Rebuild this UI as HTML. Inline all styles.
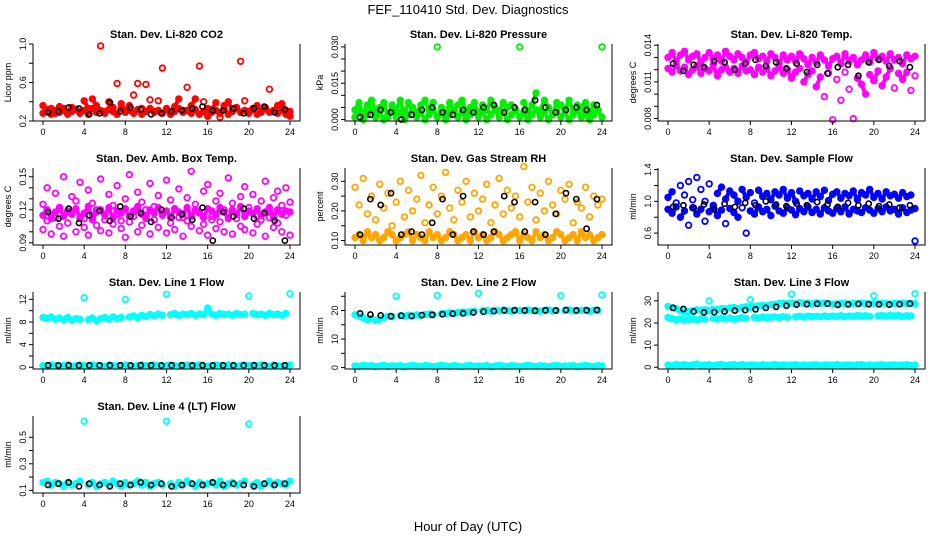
<!DOCTYPE html>
<html><head><meta charset="utf-8"><style>
html,body{margin:0;padding:0;background:#fff;}
svg{display:block;font-family:"Liberation Sans",Arial,sans-serif;}
</style></head><body>
<svg id="chart" width="936" height="540" viewBox="0 0 936 540">
<rect x="0" y="0" width="936" height="540" fill="#fff"/>
<text x="468" y="14" text-anchor="middle" font-size="13">FEF_110410  Std. Dev. Diagnostics</text>
<text x="468" y="531" text-anchor="middle" font-size="13">Hour of Day (UTC)</text>
</svg>
<script>
// shared hour arrays
const tC=[0,0.4,0.8,1.2,1.6,2,2.4,2.8,3.2,3.6,4,4.4,4.8,5.2,5.6,6,6.4,6.8,7.2,7.6,8,8.4,8.8,9.2,9.6,10,10.4,10.8,11.2,11.6,12,12.4,12.8,13.2,13.6,14,14.4,14.8,15.2,15.6,16,16.4,16.8,17.2,17.6,18,18.4,18.8,19.2,19.6,20,20.4,20.8,21.2,21.6,22,22.4,22.8,23.2,23.6,24];
const tB=[0.5,1.5,2.5,3.5,4.5,5.5,6.5,7.5,8.5,9.5,10.5,11.5,12.5,13.5,14.5,15.5,16.5,17.5,18.5,19.5,20.5,21.5,22.5,23.5];
const xTicks=[0,4,8,12,16,20,24];

const co2A=[0.36,0.30,0.33,0.28,0.35,0.31,0.29,0.34,0.32,0.30,0.41,0.33,0.43,0.36,0.98,0.30,0.40,0.34,0.59,0.38,0.31,0.36,0.47,0.59,0.33,0.58,0.42,0.30,0.41,0.75,0.33,0.28,0.35,0.43,0.31,0.55,0.36,0.43,0.77,0.40,0.25,0.32,0.39,0.24,0.36,0.40,0.31,0.34,0.82,0.41,0.30,0.33,0.36,0.29,0.34,0.53,0.30,0.36,0.38,0.31,0.25];
const co2B=[0.28,0.32,0.27,0.31,0.29,0.33,0.27,0.30,0.32,0.28,0.31,0.27,0.33,0.29,0.31,0.28,0.32,0.30,0.27,0.33,0.29,0.31,0.28,0.32,0.27,0.30,0.33,0.29,0.31,0.28,0.32,0.27,0.30,0.33,0.29,0.31,0.28,0.32,0.27,0.30,0.33,0.29,0.31,0.28,0.32,0.27,0.30,0.33,0.29,0.31,0.28,0.32,0.27,0.30,0.33,0.29,0.31,0.28,0.32,0.27,0.30];
const co2K=[0.29,0.30,0.34,0.33,0.27,0.28,0.39,0.30,0.34,0.32,0.27,0.28,0.30,0.31,0.33,0.35,0.31,0.31,0.33,0.28,0.33,0.35,0.29,0.32];

const presA=[0.004,0.007,0.002,0.006,0.008,0.003,0.005,0.007,0.001,0.006,0.004,0.008,0.002,0.007,0.005,0.003,0.006,0.008,0.004,0.007,0.030,0.005,0.002,0.007,0.004,0.006,0.008,0.003,0.005,0.007,0.002,0.006,0.004,0.008,0.005,0.003,0.007,0.005,0.006,0.004,0.030,0.007,0.003,0.006,0.011,0.004,0.008,0.005,0.002,0.007,0.006,0.004,0.008,0.003,0.006,0.005,0.007,0.002,0.006,0.004,0.030];
const presB=[0.001,0.003,0.000,0.002,0.004,0.001,0.003,0.000,0.002,0.004,0.001,0.003,0.000,0.002,0.004,0.001,0.003,0.000,0.002,0.004,0.001,0.003,0.000,0.002,0.004,0.001,0.003,0.000,0.002,0.004,0.001,0.003,0.000,0.002,0.004,0.001,0.003,0.000,0.002,0.004,0.001,0.003,0.000,0.002,0.004,0.001,0.003,0.000,0.002,0.004,0.001,0.003,0.000,0.002,0.004,0.001,0.003,0.000,0.002,0.004,0.001];
const presK=[0.001,0.002,0.004,0.003,0.000,0.002,0.004,0.005,0.003,0.002,0.004,0.003,0.005,0.006,0.003,0.005,0.004,0.008,0.005,0.003,0.004,0.005,0.004,0.006];

const tempA=[0.0130,0.0134,0.0127,0.0132,0.0135,0.0128,0.0131,0.0133,0.0126,0.0130,0.0134,0.0129,0.0132,0.0127,0.0135,0.0131,0.0128,0.0133,0.0130,0.0126,0.0132,0.0134,0.0129,0.0131,0.0127,0.0133,0.0130,0.0125,0.0132,0.0128,0.0131,0.0127,0.0133,0.0129,0.0124,0.0130,0.0126,0.0132,0.0128,0.0123,0.0129,0.0131,0.0125,0.0133,0.0127,0.0130,0.0124,0.0128,0.0132,0.0126,0.0134,0.0129,0.0131,0.0127,0.0133,0.0128,0.0130,0.0125,0.0132,0.0129,0.0131];
const tempB=[0.0121,0.0118,0.0124,0.0119,0.0122,0.0116,0.0120,0.0123,0.0117,0.0121,0.0119,0.0124,0.0115,0.0120,0.0122,0.0118,0.0121,0.0117,0.0123,0.0119,0.0120,0.0116,0.0122,0.0118,0.0121,0.0115,0.0119,0.0122,0.0117,0.0120,0.0113,0.0118,0.0121,0.0110,0.0116,0.0119,0.0106,0.0114,0.0098,0.0117,0.0079,0.0112,0.0095,0.0118,0.0104,0.0080,0.0113,0.0108,0.0100,0.0116,0.0111,0.0119,0.0107,0.0114,0.0121,0.0105,0.0117,0.0112,0.0118,0.0103,0.0115];
const tempK=[0.0125,0.0119,0.0124,0.0122,0.0127,0.0126,0.0120,0.0125,0.0128,0.0123,0.0126,0.0121,0.0125,0.0118,0.0124,0.0117,0.0122,0.0124,0.0115,0.0126,0.0128,0.0123,0.0127,0.0122];

const ambA=[0.125,0.140,0.115,0.135,0.122,0.150,0.118,0.132,0.128,0.145,0.112,0.138,0.126,0.120,0.148,0.116,0.134,0.124,0.142,0.110,0.130,0.152,0.119,0.136,0.127,0.114,0.144,0.123,0.133,0.117,0.147,0.129,0.121,0.139,0.113,0.131,0.155,0.125,0.118,0.137,0.143,0.111,0.128,0.135,0.120,0.149,0.126,0.116,0.132,0.141,0.122,0.134,0.114,0.128,0.146,0.119,0.131,0.137,0.124,0.140,0.127];
const ambB=[0.102,0.110,0.098,0.113,0.105,0.096,0.108,0.118,0.100,0.112,0.104,0.097,0.115,0.106,0.101,0.111,0.099,0.107,0.116,0.103,0.095,0.109,0.114,0.100,0.106,0.120,0.098,0.111,0.104,0.117,0.099,0.108,0.102,0.113,0.096,0.110,0.105,0.119,0.101,0.107,0.097,0.114,0.103,0.109,0.100,0.116,0.098,0.112,0.105,0.102,0.118,0.099,0.107,0.111,0.096,0.113,0.104,0.108,0.100,0.115,0.097];
const ambC=[0.115,0.120,0.112,0.118,0.122,0.114,0.119,0.116,0.121,0.113,0.117,0.123,0.111,0.118,0.120,0.115,0.122,0.112,0.119,0.117,0.121,0.114,0.118,0.123,0.116,0.112,0.120,0.117,0.122,0.115,0.119,0.113,0.121,0.118,0.116,0.122,0.114,0.120,0.117,0.113,0.121,0.119,0.115,0.122,0.118,0.112,0.120,0.116,0.123,0.114,0.119,0.117,0.121,0.115,0.118,0.122,0.113,0.120,0.116,0.119,0.118];
const ambK=[0.118,0.112,0.121,0.108,0.115,0.119,0.110,0.123,0.114,0.117,0.109,0.120,0.113,0.116,0.111,0.122,0.092,0.118,0.114,0.121,0.112,0.117,0.110,0.092];

const rhA=[0.28,0.22,0.31,0.19,0.25,0.17,0.29,0.21,0.26,0.15,0.23,0.30,0.18,0.27,0.20,0.24,0.32,0.16,0.22,0.28,0.19,0.25,0.33,0.21,0.17,0.27,0.23,0.30,0.18,0.26,0.20,0.24,0.29,0.16,0.22,0.31,0.19,0.27,0.21,0.25,0.18,0.35,0.23,0.28,0.17,0.26,0.20,0.30,0.22,0.19,0.27,0.24,0.29,0.16,0.23,0.21,0.28,0.18,0.25,0.22,0.24];
const rhB=[0.11,0.12,0.10,0.13,0.11,0.12,0.10,0.11,0.13,0.12,0.10,0.11,0.12,0.13,0.10,0.12,0.11,0.10,0.13,0.11,0.12,0.10,0.11,0.13,0.12,0.10,0.11,0.12,0.10,0.13,0.11,0.12,0.10,0.11,0.13,0.12,0.10,0.11,0.12,0.13,0.10,0.12,0.11,0.10,0.13,0.11,0.12,0.10,0.11,0.13,0.12,0.10,0.11,0.12,0.10,0.13,0.11,0.12,0.10,0.11,0.12];
const rhK=[0.12,0.24,0.22,0.26,0.12,0.13,0.12,0.16,0.24,0.12,0.25,0.13,0.12,0.13,0.25,0.23,0.13,0.23,0.12,0.19,0.26,0.24,0.14,0.24];

const flowA=[1.05,1.12,0.98,1.20,1.08,1.25,1.02,1.30,1.15,1.00,1.22,0.95,1.10,1.18,1.03,1.13,1.08,1.00,1.15,1.05,1.11,0.98,1.14,1.06,1.10,1.02,1.12,1.08,1.15,1.04,1.11,1.00,1.13,1.07,1.10,1.03,1.12,1.06,1.14,1.01,1.09,1.12,1.04,1.10,1.07,1.13,1.02,1.11,1.08,1.15,1.05,1.10,1.03,1.12,1.07,1.09,1.04,1.11,1.06,1.08,0.50];
const flowB=[0.90,0.85,0.93,0.80,0.88,0.70,0.92,0.84,0.90,0.75,0.87,0.93,0.82,0.89,0.72,0.91,0.86,0.80,0.92,0.60,0.88,0.84,0.93,0.87,0.90,0.82,0.94,0.88,0.85,0.92,0.89,0.83,0.91,0.87,0.93,0.86,0.90,0.84,0.92,0.88,0.85,0.91,0.87,0.93,0.84,0.90,0.88,0.86,0.92,0.89,0.85,0.91,0.87,0.93,0.88,0.90,0.84,0.92,0.86,0.89,0.91];
const flowK=[0.93,0.95,0.92,0.96,0.90,0.97,0.93,0.98,0.95,1.00,0.96,0.94,0.97,0.95,0.99,0.96,0.93,0.98,0.95,0.97,0.94,0.96,0.92,0.95];

const l1A=[8.8,8.6,8.9,8.5,8.7,8.4,8.8,8.3,8.6,8.5,12.3,8.4,8.7,8.2,8.6,8.8,8.5,8.9,8.6,8.8,12.0,8.9,9.1,8.8,9.2,9.0,9.3,9.1,9.4,9.2,12.9,9.3,9.5,9.2,9.4,9.3,9.5,9.2,9.4,9.3,10.5,9.4,9.2,9.5,9.3,9.4,9.2,9.5,9.3,9.4,12.6,9.5,9.3,9.4,9.2,9.5,9.3,9.4,9.2,9.5,13.0];
const l1B=[0.3,0.2,0.4,0.3,0.2,0.3,0.4,0.2,0.3,0.4,0.3,0.2,0.4,0.3,0.3,0.2,0.4,0.3,0.2,0.3,0.4,0.3,0.2,0.3,0.4,0.3,0.2,0.4,0.3,0.2,0.3,0.4,0.3,0.2,0.3,0.4,0.2,0.3,0.4,0.3,0.2,0.3,0.4,0.3,0.2,0.4,0.3,0.2,0.3,0.4,0.3,0.2,0.3,0.4,0.3,0.2,0.4,0.3,0.2,0.3,0.4];
const l1K=[0.35,0.33,0.36,0.34,0.35,0.33,0.36,0.35,0.34,0.36,0.35,0.33,0.35,0.36,0.34,0.35,0.33,0.36,0.35,0.34,0.36,0.35,0.33,0.35];

const l2A=[18.5,18.0,17.5,16.8,17.2,16.5,17.0,17.5,18.0,17.8,25.0,18.2,18.0,18.4,18.1,18.5,18.3,18.6,18.8,18.5,25.3,18.9,19.0,19.2,19.0,19.3,19.5,19.4,19.6,19.8,26.0,19.9,20.0,19.8,20.1,19.9,20.2,20.0,19.8,20.1,20.0,19.9,20.2,20.0,20.1,19.8,20.0,20.2,19.9,20.1,25.2,20.0,20.2,19.9,20.1,20.0,20.2,19.8,20.1,20.0,25.5];
const l2B=[0.6,0.4,0.8,0.5,0.7,0.3,0.6,0.8,0.4,0.6,0.5,0.7,0.3,0.6,0.8,0.5,0.4,0.7,0.6,0.3,0.5,0.8,0.6,0.4,0.7,0.5,0.3,0.6,0.8,0.4,0.6,0.5,0.7,0.3,0.6,0.8,0.5,0.4,0.7,0.6,0.3,0.5,0.8,0.6,0.4,0.7,0.5,0.3,0.6,0.8,0.4,0.6,0.5,0.7,0.3,0.6,0.8,0.5,0.4,0.7,0.6];
const l2K=[19.0,18.6,18.3,18.0,18.2,18.1,18.4,18.5,18.7,18.9,19.0,19.3,19.6,19.8,20.0,20.1,20.0,19.9,20.1,20.0,20.2,20.0,20.1,20.2];

const l3A=[22.5,22.0,21.5,21.8,21.3,21.6,21.9,21.4,22.0,21.7,30.0,22.1,21.8,22.2,21.9,22.3,21.7,22.0,22.4,22.1,30.5,22.5,22.3,22.7,22.4,22.6,22.8,22.5,22.9,22.6,33.0,22.8,23.0,22.7,23.1,22.9,23.0,22.8,23.2,22.9,23.1,23.0,23.3,22.9,23.2,23.0,23.4,23.1,23.3,23.0,32.3,23.2,23.4,23.1,23.5,23.2,23.4,23.0,23.3,23.2,33.2];
const l3B=[27.5,27.0,26.5,25.5,25.0,25.2,25.5,26.0,25.8,26.0,25.5,26.2,26.0,26.5,26.3,26.8,27.0,26.5,27.0,27.3,27.0,27.5,27.8,28.0,27.8,28.3,28.5,28.8,29.0,28.7,29.0,28.8,29.2,28.9,29.0,28.7,29.1,28.8,29.0,28.9,28.5,28.7,28.8,29.0,28.6,28.9,28.7,29.0,28.8,28.6,28.9,28.7,29.0,28.8,28.6,28.9,28.7,29.0,28.8,28.9,28.7];
const l3C=[1.0,0.7,1.3,0.9,1.2,0.8,1.1,1.4,0.9,1.0,1.2,0.7,1.1,1.3,0.8,1.0,1.2,0.9,1.3,0.7,1.0,1.1,0.8,1.2,0.9,1.0,1.3,0.8,1.1,0.9,1.0,1.2,0.7,1.1,0.9,1.0,1.2,0.8,1.0,1.1,0.9,1.2,0.8,1.0,1.1,0.9,1.0,1.2,0.8,1.1,0.9,1.0,1.2,0.8,1.0,1.1,0.9,1.0,1.2,0.8,1.0];
const l3K=[26.8,26.3,25.2,24.8,24.9,25.2,25.6,25.8,26.2,26.8,27.3,27.8,28.3,28.5,28.6,28.7,28.2,28.4,28.6,28.5,28.4,28.3,28.5,28.7];

const l4A=[0.16,0.17,0.14,0.16,0.15,0.13,0.16,0.14,0.15,0.17,0.62,0.14,0.16,0.13,0.15,0.16,0.14,0.17,0.15,0.13,0.16,0.14,0.15,0.17,0.14,0.16,0.13,0.15,0.16,0.14,0.62,0.15,0.13,0.16,0.14,0.17,0.15,0.13,0.16,0.14,0.15,0.16,0.14,0.17,0.13,0.15,0.16,0.14,0.15,0.17,0.60,0.14,0.16,0.13,0.15,0.17,0.14,0.16,0.15,0.14,0.17];
const l4K=[0.14,0.15,0.16,0.13,0.15,0.14,0.13,0.15,0.14,0.16,0.14,0.15,0.13,0.14,0.15,0.14,0.16,0.14,0.15,0.14,0.13,0.15,0.14,0.15];

const NS='http://www.w3.org/2000/svg';
const svg=document.getElementById('chart');
function mk(tag,attrs,parent){const e=document.createElementNS(NS,tag);for(const k in attrs)e.setAttribute(k,attrs[k]);parent.appendChild(e);return e;}

// trace: band fill joining neighbouring points whose values are close (fraction of axis range); 0 = no trace
const panels=[
 {name:'co2',title:'Stan. Dev. Li-820 CO2',ylab:'Licor ppm',col:0,row:0,dom:[0.2,1.0],ticks:[0.2,0.4,0.6,0.8,1.0],labels:[0.2,0.6,1.0],dec:1,col1:'#ff0000',series:[co2A,co2B],trace:[0.12,0.12],black:co2K},
 {name:'pressure',title:'Stan. Dev. Li-820 Pressure',ylab:'kPa',col:1,row:0,dom:[-0.0006,0.0312],ticks:[0,0.005,0.01,0.015,0.02,0.025,0.03],labels:[0,0.015,0.03],dec:3,col1:'#00ee00',series:[presA,presB],trace:[0.2,0.2],black:presK},
 {name:'temp',title:'Stan. Dev. Li-820 Temp.',ylab:'degrees C',col:2,row:0,dom:[0.0078,0.0141],ticks:[0.008,0.009,0.010,0.011,0.012,0.013,0.014],labels:[0.008,0.011,0.014],dec:3,col1:'#ff00ff',series:[tempA,tempB],trace:[0.25,0.15],black:tempK},
 {name:'amb-box-temp',title:'Stan. Dev. Amb. Box Temp.',ylab:'degrees C',col:0,row:1,dom:[0.088,0.158],ticks:[0.09,0.10,0.11,0.12,0.13,0.14,0.15],labels:[0.09,0.12,0.15],dec:2,col1:'#ff00ff',series:[ambA,ambB,ambC],trace:[0,0,0.2],black:ambK},
 {name:'gas-rh',title:'Stan. Dev. Gas Stream RH',ylab:'percent',col:1,row:1,dom:[0.085,0.345],ticks:[0.10,0.15,0.20,0.25,0.30],labels:[0.10,0.20,0.30],dec:2,col1:'#ffa500',series:[rhA,rhB],trace:[0,0.2],black:rhK},
 {name:'sample-flow',title:'Stan. Dev. Sample Flow',ylab:'ml/min',col:2,row:1,dom:[0.45,1.42],ticks:[0.6,0.8,1.0,1.2,1.4],labels:[0.6,1.0,1.4],dec:1,col1:'#0000ff',series:[flowA,flowB],trace:[0.12,0.12],black:flowK},
 {name:'line1-flow',title:'Stan. Dev. Line 1 Flow',ylab:'ml/min',col:0,row:2,dom:[-0.3,13.3],ticks:[0,2,4,6,8,10,12],labels:[0,4,8,12],dec:0,col1:'#00ffff',series:[l1A,l1B],trace:[0.1,0.1],black:l1K},
 {name:'line2-flow',title:'Stan. Dev. Line 2 Flow',ylab:'ml/min',col:1,row:2,dom:[-0.5,26.5],ticks:[0,5,10,15,20,25],labels:[0,10,20],dec:0,col1:'#00ffff',series:[l2A,l2B],trace:[0.1,0.1],black:l2K},
 {name:'line3-flow',title:'Stan. Dev. Line 3 Flow',ylab:'ml/min',col:2,row:2,dom:[-0.8,34],ticks:[0,10,20,30],labels:[0,10,20,30],dec:0,col1:'#00ffff',series:[l3A,l3B,l3C],trace:[0.1,0.1,0.1],black:l3K},
 {name:'line4-flow',title:'Stan. Dev. Line 4 (LT) Flow',ylab:'ml/min',col:0,row:3,dom:[0.08,0.66],ticks:[0.1,0.2,0.3,0.4,0.5],labels:[0.1,0.3,0.5],dec:1,col1:'#00ffff',series:[l4A],trace:[0.1],black:l4K}
];
const colX=[33,345,658], rowY=[44,168,292,416], BW=267, BH=77;

panels.forEach(p=>{
 const bx=colX[p.col], by=rowY[p.row];
 const g=mk('g',{},svg);
 
 
 const xs=v=>bx+10+v/24*247;
 const ys=v=>by+BH-(v-p.dom[0])/(p.dom[1]-p.dom[0])*BH;
 const t=mk('text',{x:bx+BW/2,y:by-6,'text-anchor':'middle','font-size':'11','font-weight':'bold'},g);
 t.textContent=p.title;
 
 
 const span=p.dom[1]-p.dom[0];
 p.series.forEach((s,si)=>{
  const sg=mk('g',{fill:'none',stroke:p.col1,'stroke-width':'1.8'},g);
  
  
  const thr=p.trace[si]*span;
  if(thr>0){
   let d='';
   for(let i=1;i<s.length;i++){
    if(Math.abs(s[i]-s[i-1])<=thr) d+=`M${xs(tC[i-1]).toFixed(1)},${ys(s[i-1]).toFixed(1)}L${xs(tC[i]).toFixed(1)},${ys(s[i]).toFixed(1)}`;
   }
   if(d){const pl=mk('path',{d:d,'stroke-width':'4','stroke-linecap':'round'},sg);
    
    }
  }
  s.forEach((v,i)=>{const c=mk('circle',{cx:xs(tC[i]).toFixed(1),cy:ys(v).toFixed(1),r:2.8},sg);
   
   });
 });
 const kg=mk('g',{fill:'none',stroke:'#000','stroke-width':'1.6'},g);
 
 
 p.black.forEach((v,i)=>{const c=mk('circle',{cx:xs(tB[i]).toFixed(1),cy:ys(v).toFixed(1),r:2.6},kg);
  
  });
 const bp=mk('path',{d:`M${bx},${by} V${by+BH} H${bx+BW} V${by}`,fill:'none',stroke:'#000','stroke-width':'1'},g);
 
 
 xTicks.forEach(v=>{
  mk('line',{x1:xs(v),x2:xs(v),y1:by+BH,y2:by+BH+4,stroke:'#000'},g);
  const l=mk('text',{x:xs(v),y:by+BH+14,'text-anchor':'middle','font-size':'9'},g);
  l.textContent=v;
  
  
 });
 p.ticks.forEach(v=>{mk('line',{x1:bx-4,x2:bx,y1:ys(v),y2:ys(v),stroke:'#000'},g);});
 p.labels.forEach(v=>{
  const y=ys(v);
  const l=mk('text',{x:bx-7,y:y,'text-anchor':'middle','font-size':'9',transform:`rotate(-90 ${bx-7} ${y})`},g);
  l.textContent=v.toFixed(p.dec);
  
  
 });
 const yl=mk('text',{x:bx-22,y:by+BH/2,'text-anchor':'middle','font-size':'9',transform:`rotate(-90 ${bx-22} ${by+BH/2})`},g);
 yl.textContent=p.ylab;
 
 
});
</script>
</body></html>
